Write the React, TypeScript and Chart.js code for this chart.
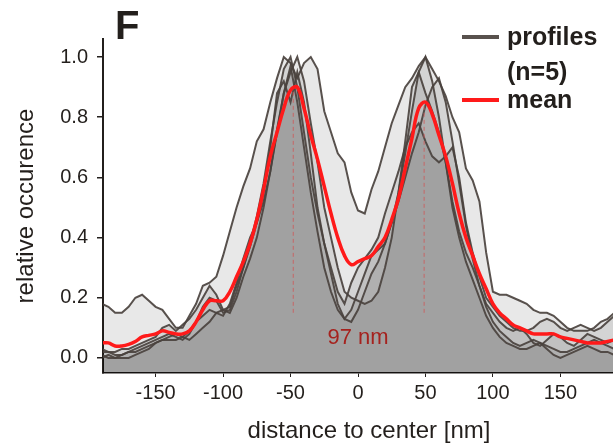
import { useEffect, useRef } from "react";
import { Chart, registerables } from "chart.js";

Chart.register(...registerables);

// distance to center [nm]
const distances = [
  -190, -185, -180, -175, -170, -165, -160, -155, -150, -145,
  -140, -135, -130, -125, -120, -115, -110, -105, -100, -95,
  -90, -85, -80, -75, -70, -65, -60, -55, -50, -45,
  -40, -35, -30, -25, -20, -15, -10, -5, 0, 5,
  10, 15, 20, 25, 30, 35, 40, 45, 50, 55,
  60, 65, 70, 75, 80, 85, 90, 95, 100, 105,
  110, 115, 120, 125, 130, 135, 140, 145, 150, 155,
  160, 165, 170, 175, 180, 185, 190,
];

const profile1 = [
  0.18, 0.17, 0.15, 0.15, 0.17, 0.2, 0.21, 0.19, 0.17, 0.16,
  0.13, 0.1, 0.1, 0.14, 0.18, 0.24, 0.25, 0.27, 0.34, 0.42,
  0.5, 0.57, 0.63, 0.72, 0.76, 0.85, 0.93, 1.0, 0.98, 0.93,
  0.98, 1.0, 0.96, 0.82, 0.75, 0.68, 0.65, 0.55, 0.49, 0.48,
  0.56, 0.62, 0.7, 0.78, 0.84, 0.9, 0.93, 0.97, 1.0, 0.96,
  0.92, 0.87, 0.8, 0.75, 0.63, 0.59, 0.52, 0.35, 0.22, 0.21,
  0.21, 0.2, 0.19, 0.18, 0.16, 0.15, 0.15, 0.14, 0.12, 0.1,
  0.09, 0.09, 0.09, 0.1, 0.12, 0.13, 0.15,
];

const profile2 = [
  0.03, 0.02, 0.01, 0.01, 0.02, 0.03, 0.04, 0.05, 0.06, 0.07,
  0.08, 0.07, 0.06, 0.08, 0.12, 0.17, 0.2, 0.19, 0.15, 0.16,
  0.22, 0.3, 0.38, 0.47, 0.58, 0.72, 0.85, 0.96, 1.0, 0.9,
  0.75, 0.6, 0.48, 0.38, 0.28, 0.18, 0.13, 0.16, 0.22, 0.28,
  0.34, 0.36, 0.38, 0.45, 0.55, 0.68, 0.82, 0.95, 1.0, 0.92,
  0.8, 0.65, 0.5, 0.4, 0.32, 0.26, 0.2, 0.14, 0.1, 0.07,
  0.05, 0.04, 0.03, 0.03, 0.04, 0.05, 0.04, 0.03, 0.02, 0.02,
  0.03, 0.04, 0.05, 0.06, 0.05, 0.04, 0.03,
];

const profile3 = [
  0.01, 0.0, 0.0, 0.01, 0.02, 0.02, 0.03, 0.04, 0.05, 0.06,
  0.06, 0.06, 0.07, 0.09, 0.12, 0.14, 0.16, 0.15, 0.14, 0.18,
  0.25, 0.33, 0.4, 0.45, 0.52, 0.62, 0.75, 0.88, 0.95, 1.0,
  0.92, 0.78, 0.65, 0.5, 0.4, 0.3, 0.22, 0.2, 0.19, 0.18,
  0.19, 0.22, 0.3, 0.4, 0.55, 0.72, 0.9, 0.95, 0.88, 0.82,
  0.75, 0.65, 0.52, 0.42, 0.35, 0.3, 0.24, 0.18, 0.15, 0.12,
  0.1, 0.09, 0.1, 0.08, 0.05, 0.04, 0.06, 0.08, 0.07, 0.05,
  0.04, 0.06, 0.08, 0.07, 0.06, 0.05, 0.06,
];

const profile4 = [
  0.02, 0.02, 0.02, 0.03, 0.03, 0.04, 0.05, 0.06, 0.07, 0.1,
  0.11, 0.09, 0.11, 0.13, 0.16, 0.2, 0.24, 0.21, 0.16, 0.17,
  0.24, 0.3, 0.37, 0.45, 0.55, 0.7, 0.88, 0.92, 0.85, 0.95,
  0.85, 0.68, 0.5, 0.38, 0.3, 0.22, 0.18, 0.25, 0.3, 0.33,
  0.36, 0.4, 0.48, 0.55, 0.62, 0.7, 0.75, 0.78, 0.72, 0.67,
  0.65, 0.67, 0.7, 0.6, 0.45, 0.35, 0.27, 0.2, 0.17, 0.14,
  0.12, 0.1, 0.09, 0.09, 0.1, 0.12, 0.13, 0.12, 0.1, 0.09,
  0.1, 0.11, 0.1, 0.09, 0.1, 0.12, 0.14,
];

const profile5 = [
  0.0, 0.01, 0.0, 0.0, 0.0, 0.01, 0.02, 0.03, 0.05, 0.06,
  0.07, 0.08, 0.07, 0.06, 0.08, 0.1, 0.12, 0.15, 0.16, 0.15,
  0.2, 0.27, 0.33, 0.4, 0.5, 0.62, 0.76, 0.88, 0.97, 0.85,
  0.7, 0.55, 0.42, 0.3, 0.22, 0.16, 0.13, 0.12, 0.16, 0.22,
  0.28, 0.32, 0.38, 0.45, 0.52, 0.6, 0.68, 0.75, 0.84, 0.9,
  0.93, 0.85, 0.72, 0.58, 0.44, 0.33, 0.24, 0.17, 0.12, 0.09,
  0.07, 0.05, 0.04, 0.05, 0.06, 0.05, 0.03, 0.01, 0.0, 0.01,
  0.02, 0.03, 0.04, 0.03, 0.02, 0.02, 0.01,
];

const meanProfile = [
  0.05, 0.05, 0.04, 0.04, 0.045, 0.055, 0.07, 0.075, 0.08, 0.09,
  0.085, 0.08, 0.08, 0.09, 0.12, 0.16, 0.19, 0.19, 0.19, 0.22,
  0.27, 0.32, 0.38, 0.46, 0.56, 0.67, 0.75, 0.83, 0.89, 0.9,
  0.83, 0.74, 0.66, 0.57, 0.48, 0.4, 0.34, 0.31, 0.32, 0.33,
  0.34, 0.37, 0.4, 0.46, 0.53, 0.63, 0.73, 0.83, 0.85, 0.81,
  0.74, 0.67, 0.58, 0.48, 0.4, 0.34, 0.28, 0.23, 0.18, 0.15,
  0.13, 0.11, 0.1, 0.09, 0.08, 0.08, 0.08, 0.08, 0.07, 0.065,
  0.06, 0.055, 0.05, 0.05, 0.05, 0.055, 0.06,
];

const yTicks = [0, 0.2, 0.4, 0.6, 0.8, 1.0];
const xTicks = [-150, -100, -50, 0, 50, 100, 150];

const peakX = [-48, 49];
const peakY = [0.9, 0.84];
const markerBase = 0.15;
const peakLabel = "97 nm";
const peakLabelPos = { x: 0, y: 0.045 };

const panelLetter = "F";
const legendProfiles = ["profiles", "(n=5)"];
const legendMean = "mean";
const xTitle = "distance to center [nm]";
const yTitle = "relative occurence";

const FONT = "'Liberation Sans', Arial, Helvetica, sans-serif";
const INK = "#231f1c";
const PROFILE_COLOR = "rgba(74,66,62,0.92)";
const MEAN_COLOR = "#ff1a1a";

export default function App() {
  const ref = useRef<HTMLCanvasElement>(null);

  useEffect(() => {
    if (!ref.current) return;
    const toPts = (arr: number[]) => distances.map((x, i) => ({ x, y: arr[i] }));
    const profiles = [profile1, profile2, profile3, profile4, profile5];

    const datasets: any[] = [
      {
        label: "mean",
        data: toPts(meanProfile),
        borderColor: MEAN_COLOR,
        borderWidth: 3.5,
        fill: false,
        pointRadius: 0,
        tension: 0.4,
        order: 0,
      },
      ...peakX.map((x, i) => ({
        label: "peak",
        data: [
          { x, y: markerBase },
          { x, y: peakY[i] },
        ],
        borderColor: "rgba(205,90,90,0.85)",
        borderWidth: 1,
        borderDash: [4, 3],
        fill: false,
        pointRadius: 0,
        order: 1,
      })),
      ...profiles.map((p, i) => ({
        label: `profile ${i + 1}`,
        data: toPts(p),
        borderColor: PROFILE_COLOR,
        borderWidth: 2,
        backgroundColor: "rgba(0,0,0,0.09)",
        fill: "start",
        pointRadius: 0,
        tension: 0,
        order: 2,
      })),
    ];

    const textPlugin = {
      id: "textPlugin",
      afterDraw(chart: any) {
        const ctx = chart.ctx;
        const xs = chart.scales.x;
        const ys = chart.scales.y;
        ctx.save();
        // panel letter
        ctx.fillStyle = INK;
        ctx.font = `bold 40px ${FONT}`;
        ctx.textAlign = "left";
        ctx.textBaseline = "alphabetic";
        ctx.fillText(panelLetter, 115, 39);
        // x axis title (the original plot area runs past the right edge)
        ctx.font = `24px ${FONT}`;
        ctx.textAlign = "center";
        ctx.fillText(xTitle, 369, 438);
        // peak distance label
        ctx.fillStyle = "#a5221e";
        ctx.font = `22px ${FONT}`;
        ctx.textAlign = "center";
        ctx.fillText(peakLabel, xs.getPixelForValue(peakLabelPos.x), ys.getPixelForValue(peakLabelPos.y));
        // legend
        ctx.lineCap = "butt";
        ctx.strokeStyle = PROFILE_COLOR;
        ctx.lineWidth = 4;
        ctx.beginPath();
        ctx.moveTo(462, 37);
        ctx.lineTo(499, 37);
        ctx.stroke();
        ctx.strokeStyle = MEAN_COLOR;
        ctx.beginPath();
        ctx.moveTo(462, 100);
        ctx.lineTo(499, 100);
        ctx.stroke();
        ctx.fillStyle = INK;
        ctx.font = `bold 25px ${FONT}`;
        ctx.textAlign = "left";
        ctx.fillText(legendProfiles[0], 507, 45);
        ctx.fillText(legendProfiles[1], 507, 80);
        ctx.fillText(legendMean, 507, 108);
        ctx.restore();
      },
    };

    const chart = new Chart(ref.current, {
      type: "line",
      data: { datasets },
      plugins: [textPlugin],
      options: {
        animation: false,
        responsive: false,
        maintainAspectRatio: false,
        layout: { padding: { left: 0, top: 39, right: 0, bottom: 0 } },
        plugins: {
          legend: { display: false },
          tooltip: { enabled: false },
          filler: { drawTime: "beforeDatasetsDraw" },
        } as any,
        scales: {
          x: {
            type: "linear",
            min: -189,
            max: 189,
            afterBuildTicks: (s: any) => {
              s.ticks = xTicks.map((v) => ({ value: v }));
            },
            afterFit: (s: any) => {
              s.height = 70;
            },
            grid: {
              display: true,
              drawOnChartArea: false,
              drawTicks: true,
              tickLength: 4,
              color: INK,
              lineWidth: 1,
            },
            border: { display: true, color: INK, width: 1.5 },
            ticks: {
              font: { family: FONT, size: 20 },
              color: INK,
              padding: 4,
              maxRotation: 0,
              autoSkip: false,
              callback: (v: any) => String(v),
            },
            title: { display: false },
          },
          y: {
            type: "linear",
            min: -0.05,
            max: 1.06,
            afterBuildTicks: (s: any) => {
              s.ticks = yTicks.map((v) => ({ value: v }));
            },
            afterFit: (s: any) => {
              s.width = 103;
            },
            grid: {
              display: true,
              drawOnChartArea: false,
              drawTicks: true,
              tickLength: 6,
              color: INK,
              lineWidth: 1.5,
            },
            border: { display: true, color: INK, width: 2 },
            ticks: {
              font: { family: FONT, size: 20 },
              color: INK,
              padding: 9,
              callback: (v: any) => Number(v).toFixed(1),
            },
            title: {
              display: true,
              text: yTitle,
              font: { family: FONT, size: 24 },
              color: INK,
              padding: { top: 12, bottom: 0 },
            },
          },
        },
      } as any,
    });

    return () => chart.destroy();
  }, []);

  return (
    <div style={{ position: "absolute", left: 0, top: 0, width: 613, height: 443, background: "#fff" }}>
      <canvas ref={ref} width={613} height={443} style={{ display: "block", width: 613, height: 443 }} />
    </div>
  );
}
